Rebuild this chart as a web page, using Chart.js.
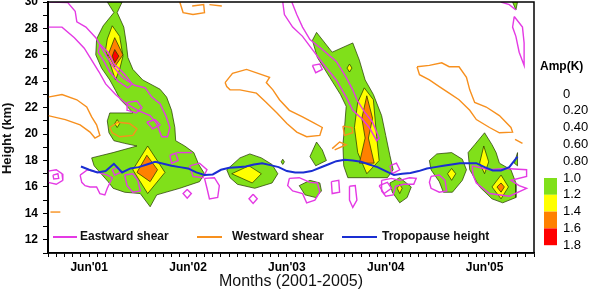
<!DOCTYPE html>
<html>
<head>
<meta charset="utf-8">
<script src="https://cdn.jsdelivr.net/npm/chart.js@4.4.1/dist/chart.umd.min.js"></script>
<style>
  html, body { margin: 0; padding: 0; background: #fff; }
  #wrap { width: 591px; height: 291px; }
</style>
</head>
<body>
<div id="wrap"><canvas id="ampChart"></canvas></div>
<script>
"use strict";

/* axes: x = months since Jan 2001, y = height in km */
var xMin = 0, xMax = 59;
var yMin = 11, yMax = 30;
var junMonths = [5, 17, 29, 41, 53];
var junLabels = ["Jun'01", "Jun'02", "Jun'03", "Jun'04", "Jun'05"];

/* colour bar */
var ampLevels = ["0", "0.20", "0.40", "0.60", "0.80", "1.0", "1.2", "1.4", "1.6", "1.8"];
var ampColors = ["#80e01a", "#ffff00", "#ff8000", "#ff0000"];   // 1.0-1.2 ... 1.6-1.8

/* tropopause height, monthly from May 2001 */
var tropoStart = 4;
var tropoHeights = [17.55, 17.3, 17.1, 17.2, 17.75, 17.1, 17.4, 17.5, 17.7, 17.9,
  17.75, 17.6, 17.5, 17.4, 17.1, 16.9, 16.95, 17.3, 17.45, 17.5,
  17.55, 17.7, 17.8, 17.65, 17.5, 17.2, 17.1, 17.1, 17.2, 17.45,
  17.7, 17.95, 18.05, 18.0, 17.9, 17.7, 17.5, 17.2, 16.9, 17.0,
  17.05, 17.2, 17.4, 17.5, 17.6, 17.7, 17.8, 17.8, 17.8, 17.5,
  17.25, 17.25, 17.5, 18.3];

/* amplitude contours [month, km] : 1.0 K level (green) */
var g1 = [[7.2,30],[8.0,29.2],[6.7,28.2],[5.9,27.2],[5.8,26.0],[6.5,25.0],[7.5,24.1],[8.2,23.3],[8.8,22.6],[9.6,22.1],[10.3,21.6],[7.5,21.6],[7.2,21.0],[7.4,20.1],[8.0,19.5],[9.3,19.3],[10.8,19.1],[7.9,18.6],[5.3,18.2],[5.6,17.6],[7.3,16.4],[7.9,15.9],[9.3,15.6],[11.2,15.5],[12.4,14.5],[13.2,15.4],[16.0,15.9],[18.4,16.4],[19.0,17.0],[18.3,17.7],[17.7,18.6],[16.6,19.1],[15.5,19.5],[15.4,20.5],[15.0,21.8],[14.4,22.8],[13.6,23.4],[11.5,24.1],[10.3,24.9],[9.7,25.8],[9.5,26.9],[9.2,28.1],[8.4,29.2],[9.0,30]];
var g2 = [[21.7,17.3],[23.3,18.2],[24.5,18.5],[25.9,18.2],[27.2,17.7],[27.9,17.0],[27.2,16.3],[25.1,15.9],[23.0,16.2],[22.1,16.7]];
var g2b = [[28.5,18.1],[28.3,17.9],[28.5,17.7],[28.7,17.9]];
var g3 = [[32.6,19.4],[31.8,18.3],[32.5,17.6],[33.8,18.0],[33.3,18.8]];
var g4 = [[30.5,16.1],[31.8,16.5],[33.0,16.3],[33.2,15.7],[32.5,15.2],[31.2,15.4]];
var g5 = [[32.6,27.7],[34.5,26.2],[37.0,26.9],[37.8,25.6],[38.5,24.1],[39.5,23.0],[40.5,21.4],[41.0,19.9],[41.5,18.4],[41.9,17.3],[41.2,16.7],[39.0,16.7],[36.4,16.7],[35.9,17.6],[35.8,19.2],[36.0,20.5],[36.2,22.1],[35.5,23.0],[34.2,24.3],[32.7,25.8],[32.1,27.1]];
var g6 = [[41.5,16.3],[42.7,16.7],[44.1,16.0],[43.6,15.2],[42.7,14.8],[41.8,15.6]];
var g7 = [[46.3,18.0],[47.2,18.5],[49.0,18.6],[50.3,18.1],[50.8,17.3],[50.3,16.5],[49.1,15.6],[48.0,15.6],[47.5,16.4],[46.5,17.3]];
var g8 = [[51.0,18.6],[51.8,19.2],[53.0,20.1],[53.9,19.2],[54.4,18.6],[54.8,17.8],[56.2,17.3],[56.8,16.3],[56.8,15.2],[55.2,14.8],[53.9,15.1],[52.4,16.0],[51.2,17.3]];
var g9 = [[56.4,30],[57.0,30],[56.8,29.4]];
var g9b = [[57.0,18.6],[56.6,17.8],[57.0,17.6]];

/* 1.2 K level (yellow) */
var y1 = [[7.8,28.2],[7.2,27.2],[7.0,26.4],[7.5,25.4],[8.2,24.1],[8.7,24.9],[9.1,25.9],[8.7,27.4]];
var y1b = [[12.1,19.1],[10.3,17.3],[12.1,15.5],[14.2,17.1]];
var y1c = [[8.4,21.1],[8.1,20.8],[8.4,20.5],[8.7,20.8]];
var y2 = [[22.3,17.0],[24.4,17.6],[25.9,17.0],[24.8,16.3]];
var y5 = [[38.4,23.5],[37.6,22.4],[37.2,20.5],[37.6,18.6],[38.7,17.0],[40.2,18.0],[39.9,19.8],[39.5,22.6]];
var y5b = [[36.6,25.3],[36.3,25.0],[36.6,24.7],[36.9,25.0]];
var y6 = [[42.7,16.2],[42.4,15.9],[42.7,15.5],[43.0,15.9]];
var y7 = [[49.0,17.4],[48.5,17.0],[49.0,16.5],[49.5,17.0]];
var y8 = [[52.9,19.1],[52.4,17.8],[53.0,17.0],[53.5,17.9]];
var y8b = [[55.0,16.9],[53.9,16.0],[55.0,15.1],[55.9,16.0]];

/* 1.4 K level (orange) and 1.6 K level (red) */
var o1 = [[8.1,27.3],[7.3,26.0],[8.1,25.1],[9.1,26.0]];
var o1b = [[12.0,18.4],[10.8,17.1],[12.4,16.4],[13.3,17.3]];
var o5 = [[38.7,22.9],[38.1,21.2],[38.5,19.7],[37.8,17.8],[39.6,17.8],[38.9,19.7],[39.4,21.2]];
var o8 = [[55.0,16.3],[54.5,16.0],[55.0,15.6],[55.4,16.0]];
var r1 = [[8.1,26.4],[7.8,25.9],[8.1,25.4],[8.6,25.9]];

/* eastward shear contours (magenta) */
var e1 = [[0.2,30],[2.4,29.95],[3.3,29.3],[3.5,28.5],[4.6,28.1],[5.8,27.3],[6.8,26.2],[7.8,25.2],[9.0,24.3],[10.5,23.7],[11.8,23.5],[12.6,22.8],[13.6,22.3],[14.3,21.4],[14.8,20.5],[14.5,19.8],[13.8,19.8],[13.2,20.8],[12.4,21.4],[10.9,21.8],[9.5,22.3],[8.2,23.0],[7.0,23.8],[6.2,24.7],[5.3,25.6],[4.4,26.5],[3.2,27.3],[1.7,28.1],[0,28.1]];
var e1b = [[6.3,26.8],[7.3,26.2],[8.0,25.3],[9.2,24.6],[10.2,23.8],[9.7,23.5],[8.5,24.0],[7.5,24.7],[6.8,25.5],[6.1,26.2]];
var e1c = [[9.6,22.4],[10.8,22.5],[11.4,22.0],[10.7,21.6],[9.7,21.8]];
var e2 = [[0,17.2],[1.0,17.3],[1.7,17.0],[1.8,16.5],[1.0,16.2],[0,16.35]];
var e2b = [[0.6,16.9],[1.2,17.0],[1.3,16.65],[0.7,16.6]];
var e3 = [[3.9,16.9],[4.8,17.3],[6.1,17.1],[7.2,16.9],[7.8,16.7],[7.5,16.3],[7.2,15.9],[6.9,15.4],[6.3,15.5],[5.9,16.0],[5.1,16.0],[4.5,16.1],[4.1,16.35]];
var e4 = [[7.8,17.3],[8.5,17.5],[8.8,17.1],[8.1,16.9]];
var e5 = [[9.3,16.9],[10.3,17.0],[10.9,16.5],[11.2,15.7],[10.3,15.6],[9.6,16.1]];
var e6 = [[12.0,20.9],[13.0,21.1],[13.6,20.7],[12.7,20.4]];
var e7 = [[14.8,18.4],[15.5,18.55],[15.8,18.0],[15.0,17.8]];
var e8 = [[17.2,17.6],[18.4,17.8],[19.3,17.3],[18.8,16.7],[17.6,16.8]];
var e9 = [[19.0,16.65],[20.2,16.7],[20.8,16.1],[20.6,15.2],[19.6,15.1],[19.3,15.9]];
var e10 = [[16.9,15.8],[17.4,15.5],[16.9,15.15],[16.4,15.5]];
var e11 = [[24.9,15.45],[25.4,15.1],[24.9,14.75],[24.4,15.1]];
var e12 = [[29.3,16.65],[30.5,16.7],[31.8,16.35],[32.7,16.3],[33.0,15.6],[32.4,15.0],[31.4,14.8],[30.9,15.5],[29.7,15.7],[29.1,16.1]];
var e13 = [[34.4,16.4],[35.3,16.5],[35.4,15.6],[34.5,15.5]];
var e14 = [[36.6,16.05],[37.3,16.1],[37.5,15.0],[37.0,14.45],[36.6,15.0]];
var e15 = [[40.2,16.1],[41.2,16.35],[41.7,15.9],[40.8,15.5]];
var e16 = [[28.5,30],[28.7,29.05],[29.7,28.1],[30.9,27.4],[32.1,26.4],[33.3,25.4],[35.0,24.1],[36.2,22.8],[37.0,21.8],[38.2,21.1],[39.0,20.5],[39.9,19.5],[40.2,19.7],[39.4,20.9],[38.4,21.7],[37.5,22.6],[37.0,23.35],[36.2,24.3],[35.0,25.5],[33.3,26.4],[31.8,27.15],[30.9,28.1],[30.2,29.05],[29.6,30]];
var e17 = [[32.1,25.2],[33.0,25.3],[33.3,24.9],[32.5,24.65]];
var e18 = [[41.5,17.6],[42.3,17.8],[42.7,17.3],[41.8,17.0]];
var e19 = [[40.5,16.5],[41.7,16.65],[42.7,16.5],[43.9,16.7],[44.7,16.65],[44.4,16.2],[43.2,16.2],[42.2,16.05],[41.9,15.4],[41.0,15.3],[40.5,15.7]];
var e20 = [[46.5,16.8],[47.5,16.9],[48.2,16.5],[48.4,15.7],[47.5,15.6],[46.5,15.9],[46.3,16.35]];
var e21 = [[51.5,17.6],[53.6,17.3],[55.6,17.4],[58.1,17.3],[58.1,16.8],[56.2,16.5],[57.2,16.1],[58.1,15.9],[56.0,15.3],[53.6,15.5],[52.0,16.3],[51.6,16.9]];
var e22 = [[56.6,28.9],[57.6,28.1],[57.8,26.9],[57.8,25.2],[57.2,26.2],[56.8,27.4],[56.4,28.1]];
var eOpen = [[[15.6,18.6],[17.5,18.6]], [[55.0,30],[56.0,29.8],[56.8,29.4]]];

/* westward shear contours (orange) */
var w1 = [[0,22.8],[1.7,23.0],[3.5,22.6],[4.7,22.05],[5.3,21.3],[5.9,20.7],[6.3,19.9],[5.7,19.7],[5.1,20.15],[3.9,20.7],[2.1,21.1],[0,21.4]];
var w2 = [[7.5,20.5],[8.5,20.9],[9.9,20.8],[10.8,20.4],[10.3,19.9],[8.7,19.8],[7.8,20.1]];
var w3 = [[21.5,23.9],[22.4,24.6],[24.1,24.9],[25.5,24.6],[26.9,24.3],[26.5,23.9],[27.3,23.35],[28.1,22.6],[29.3,21.8],[30.9,21.3],[32.1,20.9],[33.3,20.5],[33.0,19.9],[31.4,19.8],[30.2,20.15],[29.0,20.8],[27.8,21.6],[26.5,22.4],[25.3,23.1],[23.3,23.35],[22.1,23.35],[21.7,23.6]];
var w4 = [[35.8,20.6],[36.9,20.5],[37.0,20.1],[36.0,19.9]];
var w5 = [[44.8,25.1],[46.3,25.2],[47.8,25.4],[48.7,25.1],[49.9,25.1],[50.8,24.3],[51.2,23.35],[51.8,22.4],[53.2,22.05],[54.8,21.4],[56.2,20.5],[56.4,20.15],[54.8,20.1],[53.6,20.5],[52.0,21.1],[51.2,21.8],[49.9,22.6],[48.7,23.1],[47.5,23.6],[46.3,24.1],[45.1,24.5]];
var wOpen = [w1, [[0.3,14.1],[1.5,14.1]], [[16.0,30],[16.4,29.2],[17.6,29.05],[19.0,29.2],[18.9,29.8],[17.5,29.7]],
  [[19.6,29.8],[21.1,29.7]], [[34.5,18.9],[35.4,19.4],[36.2,19.2],[34.8,18.8]], [[56.7,19.6],[57.6,19.3]]];

var legendNames = ["Eastward shear", "Westward shear", "Tropopause height"];
var eastColor = "#e43ae4", westColor = "#f7901e", tropoColor = "#1a2ed2";

var edge = "rgba(35,55,0,0.9)";
function pts(a) { return a.map(function (p) { return {x: p[0], y: p[1]}; }); }
function ring(a) { return pts(a.concat([a[0]])); }
function area(poly, color, order) {
  return { data: ring(poly), fill: 'shape', backgroundColor: color, borderColor: edge,
    borderWidth: 0.8, pointRadius: 0, order: order };
}
function contour(poly, color, closed) {
  return { data: closed ? ring(poly) : pts(poly), fill: false, borderColor: color,
    borderWidth: 1.4, pointRadius: 0, order: 1 };
}

var datasets = [];
[g1, g2, g2b, g3, g4, g5, g6, g7, g8, g9, g9b].forEach(function (p) { datasets.push(area(p, ampColors[0], 10)); });
[y1, y1b, y1c, y2, y5, y5b, y6, y7, y8, y8b].forEach(function (p) { datasets.push(area(p, ampColors[1], 9)); });
[o1, o1b, o5, o8].forEach(function (p) { datasets.push(area(p, ampColors[2], 8)); });
[r1].forEach(function (p) { datasets.push(area(p, ampColors[3], 7)); });
[w2, w3, w4, w5].forEach(function (p) { datasets.push(contour(p, westColor, true)); });
wOpen.forEach(function (p) { datasets.push(contour(p, westColor, false)); });
[e1b, e1c, e2, e2b, e3, e4, e5, e6, e7, e8, e9, e10, e11, e12, e13, e14, e15, e17, e18, e19, e20, e21, e22]
  .forEach(function (p) { datasets.push(contour(p, eastColor, true)); });
[e1, e16].concat(eOpen).forEach(function (p) { datasets.push(contour(p, eastColor, false)); });
datasets.push({
  label: legendNames[2],
  data: tropoHeights.map(function (h, i) { return {x: tropoStart + i, y: h}; }),
  borderColor: tropoColor, borderWidth: 2, fill: false, pointRadius: 0, order: 0
});

/* frame, in-plot legend and colour bar */
var decorPlugin = {
  id: 'decor',
  afterDraw: function (chart) {
    var ctx = chart.ctx, a = chart.chartArea;
    ctx.save();
    ctx.strokeStyle = '#000';
    ctx.lineWidth = 1.5;
    ctx.strokeRect(a.left, a.top, a.right - a.left, a.bottom - a.top);

    // legend inside the plot
    var cols = [eastColor, westColor, tropoColor];
    var lineX = [[5, 29], [149, 174], [294, 329]];
    var textX = [32, 184, 334];
    var ly = a.bottom - 16;
    ctx.font = 'bold 12px "Liberation Sans", Arial, sans-serif';
    ctx.textBaseline = 'middle';
    ctx.textAlign = 'left';
    for (var i = 0; i < legendNames.length; i++) {
      ctx.strokeStyle = cols[i];
      ctx.lineWidth = 2;
      ctx.beginPath();
      ctx.moveTo(a.left + lineX[i][0], ly);
      ctx.lineTo(a.left + lineX[i][1], ly);
      ctx.stroke();
      ctx.fillStyle = '#111';
      ctx.fillText(legendNames[i], a.left + textX[i], ly);
    }

    // colour bar
    var bx = a.right + 10;
    ctx.fillStyle = '#000';
    ctx.font = 'bold 12px "Liberation Sans", Arial, sans-serif';
    ctx.fillText('Amp(K)', a.right + 6, 67);
    ctx.font = '13px "Liberation Sans", Arial, sans-serif';
    var y0 = 94, dy = 16.8;
    for (var k = 0; k < ampColors.length; k++) {
      ctx.fillStyle = ampColors[k];
      ctx.fillRect(bx, y0 + (5 + k) * dy, 13, dy);
    }
    ctx.fillStyle = '#000';
    for (var j = 0; j < ampLevels.length; j++) {
      ctx.fillText(ampLevels[j], a.right + 29, y0 + j * dy);
    }
    ctx.restore();
  }
};

var tickFont = { family: '"Liberation Sans", Arial, sans-serif', size: 12, weight: 'bold' };

new Chart(document.getElementById('ampChart'), {
  type: 'line',
  data: { datasets: datasets },
  options: {
    responsive: true,
    maintainAspectRatio: false,
    animation: false,
    events: [],
    layout: { padding: { top: 2, right: 57, left: 0, bottom: 0 } },
    plugins: { legend: { display: false }, tooltip: { enabled: false } },
    scales: {
      x: {
        type: 'linear', min: xMin, max: xMax,
        afterFit: function (s) { s.height = 38; s.paddingLeft = 0; s.paddingRight = 0; },
        ticks: {
          stepSize: 1, autoSkip: false, maxRotation: 0, minRotation: 0, padding: 3,
          color: '#000', font: tickFont,
          callback: function (v) { var i = junMonths.indexOf(v); return i >= 0 ? junLabels[i] : ''; }
        },
        grid: { drawOnChartArea: false, tickLength: 4, color: '#000' },
        border: { color: '#000', width: 1.5 },
        title: { display: true, text: 'Months (2001-2005)', color: '#111',
          font: { family: '"Liberation Sans", Arial, sans-serif', size: 16 }, padding: { top: 0, bottom: 0 } }
      },
      y: {
        type: 'linear', min: yMin, max: yMax,
        afterFit: function (s) { s.width = 48; s.paddingTop = 0; s.paddingBottom = 0; },
        ticks: {
          stepSize: 1, autoSkip: false, padding: 5, color: '#000', font: tickFont,
          callback: function (v) { return v % 2 === 0 ? v : ''; }
        },
        grid: { drawOnChartArea: false, tickLength: 5, color: '#000' },
        border: { color: '#000', width: 2 },
        // trailing spaces push the visible title down towards the middle of the ticks
        title: { display: true, text: 'Height (km)      ', color: '#111',
          font: { family: '"Liberation Sans", Arial, sans-serif', size: 13, weight: 'bold' }, padding: { top: 0, bottom: 0 } }
      }
    }
  },
  plugins: [decorPlugin]
});
</script>
</body>
</html>
